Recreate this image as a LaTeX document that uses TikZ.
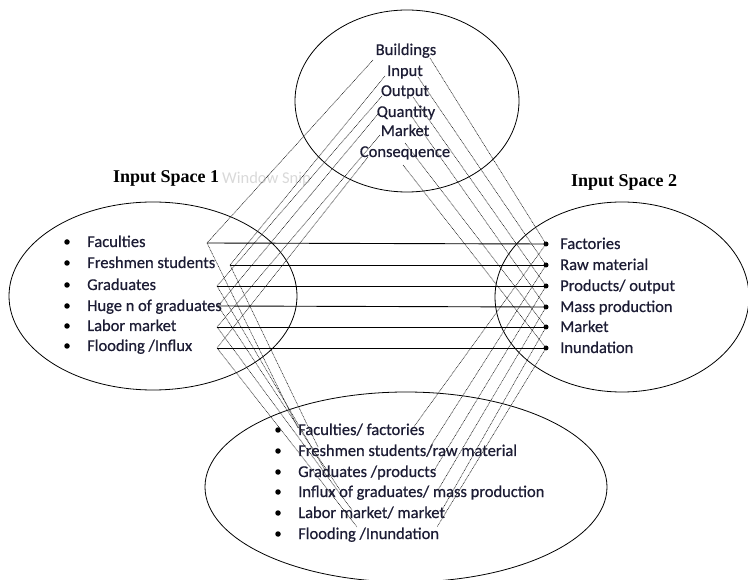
\documentclass[tikz,border=0pt]{standalone}
\usepackage{fontspec}
\setmainfont{Carlito}
\newfontfamily\itemfont{Carlito}[RawFeature={embolden=0.6}]
\newfontfamily\headfont{Liberation Serif}
\definecolor{txt}{RGB}{28,28,52}
\begin{document}
\begin{tikzpicture}[x=1pt,y=-1pt,
  item/.style={anchor=west, inner sep=0pt, font=\itemfont\fontsize{16.5}{18}\selectfont, text=txt, text height=13pt, text depth=3pt},
  gitem/.style={anchor=center, inner sep=0pt, font=\itemfont\fontsize{16.5}{18}\selectfont, text=txt, text height=13pt, text depth=3pt},
  head/.style={inner sep=0pt, font=\headfont\bfseries\fontsize{18}{20}\selectfont},
  spacebox/.style={draw=black, line width=0.8pt},
  map/.style={draw=black!85, line width=0.6pt, dash pattern=on 0.9pt off 0.7pt},
  link/.style={draw=black, line width=0.9pt},
  bul/.style={circle, fill=black, inner sep=0pt, minimum size=5.5pt}]
\useasboundingbox (0,0) rectangle (748,580);
\clip (0,0) rectangle (748,580);

% spaces
\draw[spacebox] (407,101) ellipse [x radius=112, y radius=91];
\draw[spacebox] (153,296) ellipse [x radius=144, y radius=94];
\draw[spacebox] (622,297) ellipse [x radius=127, y radius=95];
\draw[spacebox] (406,487) ellipse [x radius=201, y radius=95];

% headings
\node[head, anchor=west] (h1) at (113,178) {Input Space 1};
\node[head, anchor=west] (h2) at (571,182) {Input Space 2};
\node[anchor=west, inner sep=0pt, font=\fontsize{16.5}{18}\selectfont, text=black!15] (snip) at (222,179) {Window Snip};

% generic space
\node[gitem] (g1) at (406,50) {Buildings};
\node[gitem] (g2) at (405,71) {Input};
\node[gitem] (g3) at (405,91) {Output};
\node[gitem] (g4) at (406,112) {Quantity};
\node[gitem] (g5) at (405,131) {Market};
\node[gitem] (g6) at (405,152) {Consequence};

% input space 1
\node[bul] (lb1) at (67,242) {};
\node[bul] (lb2) at (67,263) {};
\node[bul] (lb3) at (67,285) {};
\node[bul] (lb4) at (67,306) {};
\node[bul] (lb5) at (67,326) {};
\node[bul] (lb6) at (67,346) {};
\node[item] (la1) at (87,242) {Faculties};
\node[item] (la2) at (87,263) {Freshmen students};
\node[item] (la3) at (87,285) {Graduates};
\node[item] (la4) at (87,306) {Huge n of graduates};
\node[item] (la5) at (87,326) {Labor market};
\node[item] (la6) at (87,346) {Flooding /Influx};

% input space 2
\node[bul, minimum size=5pt] (r1) at (546,244) {};
\node[bul, minimum size=5pt] (r2) at (546,265) {};
\node[bul, minimum size=5pt] (r3) at (546,286) {};
\node[bul, minimum size=5pt] (r4) at (546,307) {};
\node[bul, minimum size=5pt] (r5) at (546,327) {};
\node[bul, minimum size=5pt] (r6) at (546,348) {};
\node[item] (ra1) at (560,244) {Factories};
\node[item] (ra2) at (560,265) {Raw material};
\node[item] (ra3) at (560,286) {Products/ output};
\node[item] (ra4) at (560,307) {Mass production};
\node[item] (ra5) at (560,327) {Market};
\node[item] (ra6) at (560,348) {Inundation};

% blend
\node[bul] (bb1) at (278,430) {};
\node[bul] (bb2) at (278,451) {};
\node[bul] (bb3) at (278,472) {};
\node[bul] (bb4) at (278,492) {};
\node[bul] (bb5) at (278,513) {};
\node[bul] (bb6) at (278,534) {};
\node[item] (ba1) at (298,430) {Faculties/ factories};
\node[item] (ba2) at (298,451) {Freshmen students/raw material};
\node[item] (ba3) at (298,472) {Graduates /products};
\node[item] (ba4) at (298,492) {Influx of graduates/ mass production};
\node[item] (ba5) at (298,513) {Labor market/ market};
\node[item] (ba6) at (298,534) {Flooding /Inundation};

% anchor coordinates
\coordinate (l1) at (207,243);
\coordinate (l2) at (230,265);
\coordinate (l3) at (217,286);
\coordinate (l4) at (218,306);
\coordinate (l5) at (217,327);
\coordinate (l6) at (217,348);

\coordinate (gl1) at (373,60);
\coordinate (gl2) at (385,76);
\coordinate (gl3) at (382,96);
\coordinate (gl4) at (378,114);
\coordinate (gl5) at (380,135);
\coordinate (gl6) at (368,157);

\coordinate (gr1) at (430,58);
\coordinate (gr2) at (418,77);
\coordinate (gr3) at (413,97);
\coordinate (gr4) at (412,117);
\coordinate (gr5) at (405,143);
\coordinate (gr6) at (403,165);

\coordinate (bl1) at (298,428);
\coordinate (bl2) at (318,447);
\coordinate (bl3) at (325,470);
\coordinate (bl4) at (340,490);
\coordinate (bl5) at (352,510);
\coordinate (bl6) at (357,527);

\coordinate (br1) at (413,428);
\coordinate (br2) at (430,447);
\coordinate (br3) at (435,469);
\coordinate (br4) at (438,490);
\coordinate (br5) at (442,510);
\coordinate (br6) at (437,527);

% connectors
\foreach \i in {1,...,6}{
  \draw[map] (gl\i) -- (l\i);
  \draw[map] (gr\i) -- (r\i.center);
  \draw[map] (l\i) -- (bl\i);
  \draw[map] (r\i.center) -- (br\i);
}
\draw[link] (l1) -- (r1.center);
\draw[link] (l2) -- (r2.center);
\draw[link] (l3) -- (r3.center);
\draw[link] (l4) -- (r4.center);
\draw[link] (l5) -- (r5.center);
\draw[link] (l6) -- (r6.center);
\end{tikzpicture}
\end{document}
